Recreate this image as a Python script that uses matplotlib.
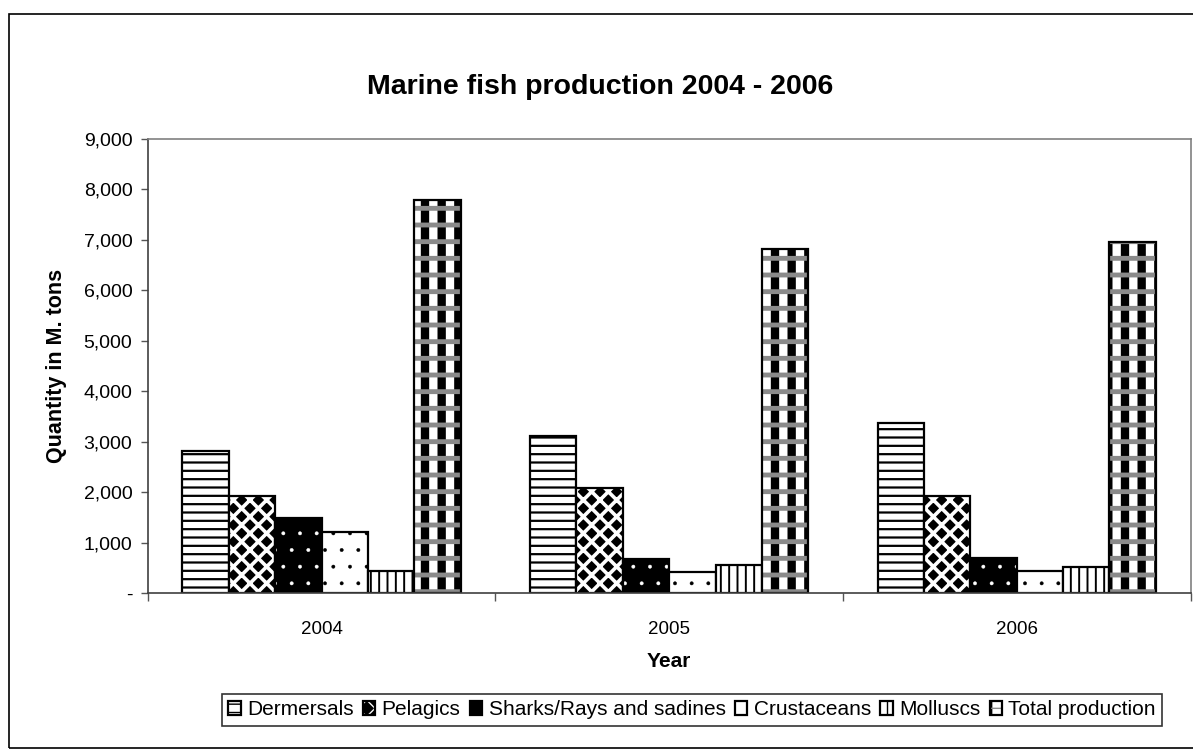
import numpy as np
import matplotlib
matplotlib.use("Agg")
import matplotlib.pyplot as plt
from matplotlib.patches import Rectangle
from matplotlib.legend_handler import HandlerTuple
from matplotlib.ticker import FuncFormatter, FixedLocator

# data
years = ["2004", "2005", "2006"]
dermersals = [2820, 3120, 3380]
pelagics = [1930, 2080, 1930]
sharks = [1480, 680, 700]
crustaceans = [1200, 420, 430]
molluscs = [430, 560, 510]
total = [7800, 6820, 6950]

series = [
    ("Dermersals", dermersals),
    ("Pelagics", pelagics),
    ("Sharks/Rays and sadines", sharks),
    ("Crustaceans", crustaceans),
    ("Molluscs", molluscs),
    ("Total production", total),
]

# layers per series: (facecolor, hatch, hatch color, hatch linewidth)
styles = [
    [("white", "--", "black", 1.6)],
    [("black", None, None, 0), ("none", "xx", "white", 2.6)],
    [("black", ".", "white", 0.3)],
    [("white", ".", "black", 0.3)],
    [("white", "||", "black", 1.4)],
    [("white", "|", "black", 6.0), ("none", "-", "#8a8a8a", 3.5)],
]

plt.rcParams["font.family"] = ["Liberation Sans", "DejaVu Sans"]

fig = plt.figure(figsize=(11.93, 7.52), dpi=100)
ax = fig.add_axes([0.1238, 0.2114, 0.998 - 0.1238, 0.8152 - 0.2114])

x = np.arange(len(years))
n = len(series)
w = 0.8 / n

handles = []
for i, (name, vals) in enumerate(series):
    pos = x - 0.4 + w * (i + 0.5)
    layers = []
    for fc, hatch, hc, hlw in styles[i]:
        with plt.rc_context({"hatch.linewidth": hlw, "hatch.color": hc if hc else "black"}):
            bars = ax.bar(pos, vals, width=w, color=fc, hatch=hatch,
                          edgecolor=hc if hc else "black", linewidth=0)
            for b in bars:
                if hasattr(b, "set_hatch_linewidth"):
                    b.set_hatch_linewidth(hlw)
        layers.append(bars[0])
    outline = ax.bar(pos, vals, width=w, color="none", edgecolor="black", linewidth=1.6)
    layers.append(outline[0])
    handles.append(tuple(layers))

ax.set_xlim(-0.5, len(years) - 0.5)
ax.set_ylim(0, 9000)
ax.set_yticks(np.arange(0, 9001, 1000))
ax.yaxis.set_major_formatter(FuncFormatter(lambda v, p: "-" if v == 0 else f"{int(v):,}"))
ax.set_xticks(x)
ax.set_xticklabels(years)
ax.xaxis.set_minor_locator(FixedLocator(np.arange(-0.5, len(years), 1.0)))
ax.tick_params(axis="x", which="major", length=0, pad=20, labelsize=13.5)
ax.tick_params(axis="x", which="minor", length=6, width=1, color="#555555", direction="out")
ax.tick_params(axis="y", length=5, width=1, color="#555555", pad=6, labelsize=14)

for s in ["left", "bottom"]:
    ax.spines[s].set_color("#404040")
    ax.spines[s].set_linewidth(1.2)
for s in ["top", "right"]:
    ax.spines[s].set_color("#808080")
    ax.spines[s].set_linewidth(1.2)

ax.set_ylabel("Quantity in M. tons", fontsize=15.5, fontweight="bold", labelpad=12)
ax.set_xlabel("Year", fontsize=15, fontweight="bold", labelpad=10)
fig.text(0.503, 0.884, "Marine fish production 2004 - 2006", ha="center", va="center",
         fontsize=20.5, fontweight="bold")

leg = fig.legend(handles, [s[0] for s in series], loc="center",
                 bbox_to_anchor=(0.58, 0.056), ncol=6, fontsize=15,
                 handler_map={tuple: HandlerTuple(ndivide=1)},
                 handlelength=0.6, handleheight=0.6, handletextpad=0.3,
                 columnspacing=0.45, frameon=True, fancybox=False,
                 borderpad=0.3)
leg.get_frame().set_edgecolor("black")
leg.get_frame().set_linewidth(1.2)

fig.patches.append(Rectangle((0.0075, 0.005), 1.1, 0.977, transform=fig.transFigure,
                             fill=False, edgecolor="black", linewidth=1.2))

fig.savefig("out.png", dpi=100)
